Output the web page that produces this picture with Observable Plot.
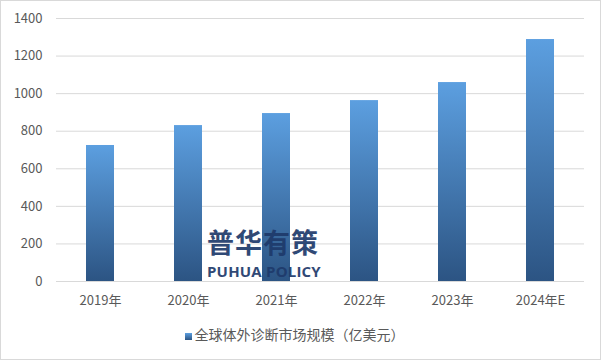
<!DOCTYPE html>
<html>
<head>
<meta charset="utf-8">
<script src="https://cdn.jsdelivr.net/npm/d3@7"></script>
<script src="https://cdn.jsdelivr.net/npm/@observablehq/plot@0.6"></script>
<style>
  html, body { margin: 0; padding: 0; background: #fff; }
  #wrap { position: relative; width: 601px; height: 361px; overflow: hidden; font-family: "Noto Sans CJK SC", "Noto Sans", sans-serif; }
  #frame { position: absolute; left: 0; top: 0; width: 599px; height: 358px; border: 1px solid #d9d9d9; pointer-events: none; }
  #chart svg { display: block; }
  #legend { position: absolute; left: 0; width: 601px; top: 322px; height: 24px; display: flex; justify-content: center; align-items: center; font-size: 14px; color: #595959; padding-right: 12px; box-sizing: border-box; }
  #legend .sw { width: 7px; height: 7px; background: linear-gradient(#5c9fe0, #2c5483); margin-right: 3px; margin-top: 4px; }
  #wm { position: absolute; left: 207px; top: 228px; color: #1e3a6b; font-weight: bold; opacity: 0.92; line-height: 1; }
  #wm .cn { font-size: 27px; letter-spacing: 1px; }
  #wm .en { font-size: 15px; font-family: "Open Sans", "Noto Sans", sans-serif; margin-top: 9px; letter-spacing: 0.2px; }
</style>
</head>
<body>
<div id="wrap">
  <div id="chart"></div>
  <div id="wm"><div class="cn">普华有策</div><div class="en">PUHUA POLICY</div></div>
  <div id="legend"><div class="sw"></div><span id="legtext"></span></div>
  <div id="frame"></div>
</div>
<script>
const years = ["2019年", "2020年", "2021年", "2022年", "2023年", "2024年E"];
const values = [724, 830, 894, 963, 1059, 1288];
const yTicks = [0, 200, 400, 600, 800, 1000, 1200, 1400];
const seriesName = "全球体外诊断市场规模（亿美元）";

const data = years.map((y, i) => ({year: y, value: values[i]}));

const plot = Plot.plot({
  width: 601,
  height: 312,
  marginTop: 18,
  marginBottom: 31,
  marginLeft: 56,
  marginRight: 17,
  style: {fontFamily: '"Noto Sans CJK SC", "Noto Sans", sans-serif', fontSize: "13px", color: "#595959", background: "transparent"},
  x: {domain: years, paddingInner: 0.68, paddingOuter: 0.34, label: null},
  y: {domain: [0, 1400], ticks: yTicks, label: null},
  marks: [
    Plot.gridY(yTicks, {stroke: "#d9d9d9", strokeOpacity: 1, strokeWidth: 1}),
    Plot.barY(data, {x: "year", y: "value", fill: "url(#barGrad)"}),
    Plot.axisY(yTicks, {tickSize: 0, tickPadding: 14, fontSize: 13, fill: "#595959", label: null, tickFormat: d => String(d)}),
    Plot.axisX({tickSize: 0, tickPadding: 14, fontSize: 13, fill: "#595959", label: null})
  ]
});

const svg = d3.select(plot);
const defs = svg.insert("defs", ":first-child");
const g = defs.append("linearGradient").attr("id", "barGrad").attr("x1", 0).attr("y1", 0).attr("x2", 0).attr("y2", 1);
g.append("stop").attr("offset", "0%").attr("stop-color", "#5c9fe0");
g.append("stop").attr("offset", "100%").attr("stop-color", "#2c5483");

document.getElementById("chart").appendChild(plot);
document.getElementById("legtext").textContent = seriesName;
</script>
</body>
</html>
